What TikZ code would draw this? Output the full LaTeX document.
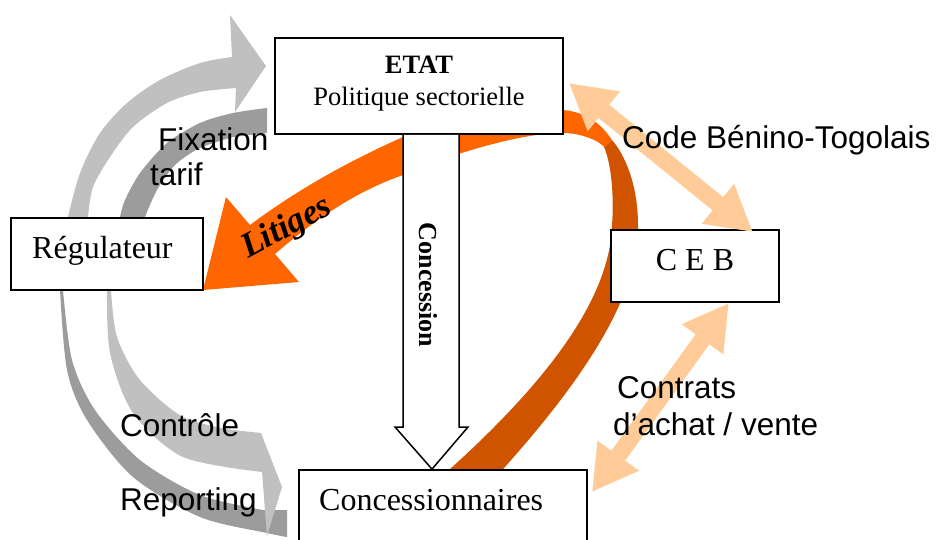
\documentclass[tikz,border=0pt]{standalone}
\usepackage{fontspec}
\setmainfont{Liberation Serif}
\newfontfamily\arialf{Liberation Sans}
\usetikzlibrary{arrows.meta}
\definecolor{lgray}{HTML}{C0C0C0}
\definecolor{dgray}{HTML}{9C9C9C}
\definecolor{orng}{HTML}{FF6600}
\definecolor{dorng}{HTML}{D05400}
\definecolor{peach}{HTML}{FFCC99}
\begin{document}
\begin{tikzpicture}[x=1pt,y=-1pt,
  box/.style={draw=black,line width=1.8pt,fill=white,inner sep=0pt},
  lbl/.style={font=\arialf\fontsize{31.5}{36}\selectfont,inner sep=0pt,anchor=base west},
  serif/.style={font=\fontsize{26.5}{32}\selectfont,inner sep=0pt,anchor=base},
  serifbig/.style={font=\fontsize{32}{38}\selectfont,inner sep=0pt},
  peacharrow/.style={draw=peach,line width=17pt,{Triangle[length=45pt,width=48pt]}-{Triangle[length=45pt,width=48pt]}},
  concarrow/.style={draw=black,line width=1.5pt,fill=white,line join=miter}
  ]
\useasboundingbox (0,0) rectangle (940,539);

% ---- gray arrows (Fixation tarif)
\fill[dgray] plot[smooth] coordinates {(120,217) (125,200) (140,173) (167,143) (200,123) (233,113) (267,108)}
  -- (267,133) -- plot[smooth] coordinates {(233,137) (200,148) (175,165) (157,190) (145,217)} -- cycle;
\fill[lgray] plot[smooth] coordinates {(68,217) (80,173) (100,133) (127,103) (160,80) (200,63) (232,57)}
  -- (230,15) -- (266,66) -- (235,112)
  -- plot[smooth] coordinates {(236,88) (200,92) (167,103) (133,127) (110,157) (93,187) (88,217)} -- cycle;

% ---- gray arrows (Controle / Reporting)
\fill[dgray] plot[smooth] coordinates {(60,290) (67,370) (87,420) (133,477) (200,517) (267,533) (287,537)}
  -- (287,510) -- plot[smooth] coordinates {(263,510) (200,495) (140,460) (95,410) (72,360) (63,290)} -- cycle;
\fill[lgray] plot[smooth] coordinates {(107,290) (110,353) (133,413) (183,457) (262,472)}
  -- (267,536) -- (282,487) -- (261,433)
  -- plot[smooth] coordinates {(233,430) (183,417) (140,380) (117,337) (111,290)} -- cycle;

% ---- orange arrow (Litiges)
\fill[dorng] (612,140) .. controls (625,155) and (638,185) .. (638,225)
  .. controls (640,300) and (575,390) .. (495,478) -- (440,478)
  .. controls (545,385) and (610,300) .. (612,225)
  .. controls (614,200) and (612,165) .. (604,147) -- cycle;
\fill[orng] (612,140) .. controls (600,122) and (585,112) .. (563,110)
  .. controls (500,106) and (430,124) .. (403,137)
  .. controls (340,165) and (290,195) .. (250,225)
  -- (226,197) -- (203,290) -- (299,282) -- (275,254)
  .. controls (320,215) and (360,190) .. (403,175)
  .. controls (460,150) and (540,128) .. (575,134)
  .. controls (590,137) and (600,142) .. (604,147) -- cycle;

% ---- boxes
\node[box,minimum width=288,minimum height=96] (etat) at (419,86) {};
\node[box,minimum width=192,minimum height=72] (reg) at (107,254) {};
\node[box,minimum width=168,minimum height=72] (ceb) at (695,266) {};
\node[box,minimum width=288,minimum height=100] (conc) at (443,520) {};

% ---- concession arrow
\filldraw[concarrow] (403,0 |- etat.south) -- (403,427) -- (395,427) -- (432,0 |- conc.north)
  -- (468,427) -- (459,427) -- (459,0 |- etat.south);
\node[rotate=-90,font=\bfseries\fontsize{26}{30}\selectfont,inner sep=0pt] (conct) at (428,285) {Concession};

% ---- peach double arrows
\draw[peacharrow] ([shift={(5,-3)}]etat.east) -- ([shift={(-27,3)}]ceb.north east);
\draw[peacharrow] ([shift={(-51,0)}]ceb.south east) -- ([shift={(4,23)}]conc.north east);

% ---- box texts
\node[serif] (etatt) at (419,73) {\textbf{ETAT}};
\node[serif] (polt) at (419,105) {Politique sectorielle};
\node[serifbig,anchor=base west] (regt) at (32,258) {Régulateur};
\node[serifbig,anchor=base] (cebt) at (695,270) {C E B};
\node[serifbig,anchor=base west] (conct2) at (319,510) {Concessionnaires};

% ---- labels
\node[rotate=28,font=\bfseries\itshape\fontsize{35}{40}\selectfont,inner sep=0pt] (lit) at (287,228) {Litiges};
\node[lbl] (fix) at (158,150) {Fixation};
\node[lbl] (tar) at (150,185) {tarif};
\node[lbl] (code) at (622,148) {Code Bénino-Togolais};
\node[lbl] (ctrl) at (120,436) {Contrôle};
\node[lbl] (rep) at (120,510) {Reporting};
\node[lbl] (ctr1) at (617,398) {Contrats};
\node[lbl] (ctr2) at (613,435) {d’achat / vente};
\end{tikzpicture}
\end{document}
